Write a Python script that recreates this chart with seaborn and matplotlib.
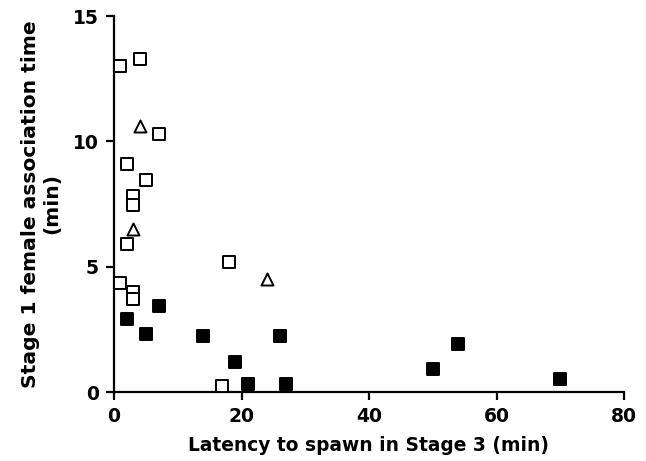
import pandas as pd
import matplotlib
matplotlib.use("Agg")
import matplotlib.pyplot as plt
import seaborn as sns

# open squares
open_x = [1, 4, 7, 2, 5, 3, 3, 2, 18, 1, 3, 3, 17]
open_y = [13.0, 13.3, 10.3, 9.1, 8.45, 7.8, 7.45, 5.9, 5.2, 4.35, 4.0, 3.7, 0.25]

# open triangles
tri_x = [4, 3, 24]
tri_y = [10.6, 6.5, 4.5]

# filled squares
fill_x = [7, 2, 5, 14, 26, 19, 21, 27, 54, 50, 70]
fill_y = [3.45, 2.9, 2.3, 2.25, 2.25, 1.2, 0.3, 0.3, 1.9, 0.9, 0.5]

x_ticks = [0, 20, 40, 60, 80]
y_ticks = [0, 5, 10, 15]

sns.set_theme(style="ticks")
plt.rcParams['font.family'] = ['DejaVu Sans']

fig = plt.figure(figsize=(6.46, 4.61), dpi=100)
ax = fig.add_axes([114 / 646, 1 - 392 / 461, 510 / 646, 376 / 461])

groups = [
    (open_x, open_y, 's', 'white'),
    (tri_x, tri_y, '^', 'white'),
    (fill_x, fill_y, 's', 'black'),
]
for xs, ys, mk, fc in groups:
    df = pd.DataFrame({'x': xs, 'y': ys})
    sns.scatterplot(data=df, x='x', y='y', marker=mk, s=75, color=fc,
                    edgecolor='black', linewidth=1.4, ax=ax, zorder=3,
                    clip_on=False)

ax.set_xlim(0, 80)
ax.set_ylim(0, 15)
ax.set_xticks(x_ticks)
ax.set_yticks(y_ticks)
sns.despine(ax=ax)
for sp in ['left', 'bottom']:
    ax.spines[sp].set_linewidth(1.6)
    ax.spines[sp].set_color('black')
ax.tick_params(direction='out', length=6, width=1.6, colors='black',
               labelcolor='black', labelsize=13.5, pad=5)
for lbl in ax.get_xticklabels() + ax.get_yticklabels():
    lbl.set_fontweight('bold')

ax.set_xlabel('Latency to spawn in Stage 3 (min)', fontsize=13.4,
              fontweight='bold', color='black', labelpad=7)
ax.set_ylabel('Stage 1 female association time\n(min)', fontsize=14.6,
              fontweight='bold', color='black', labelpad=8, linespacing=1.2)

fig.savefig('out.png', dpi=100)
plt.close(fig)
